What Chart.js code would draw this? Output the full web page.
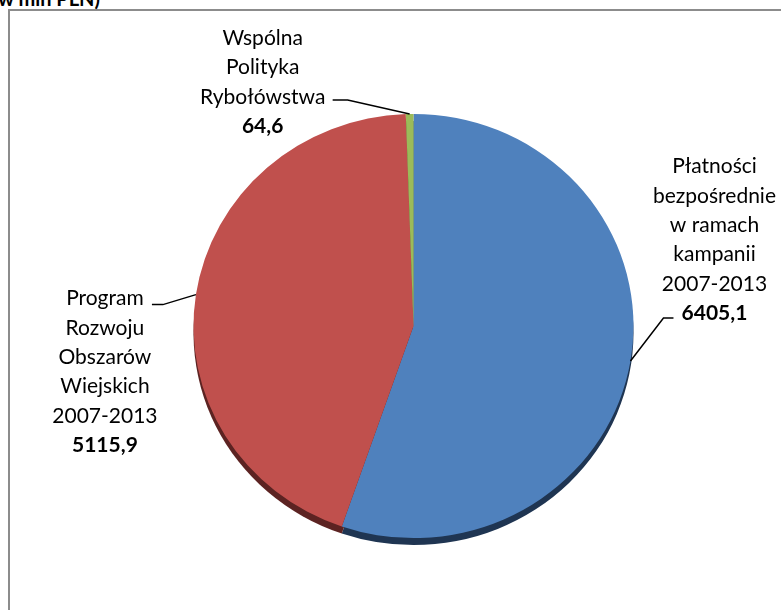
<!DOCTYPE html>
<html>
<head>
<meta charset="utf-8">
<script src="https://cdn.jsdelivr.net/npm/chart.js@4"></script>
<style>
    html, body { margin: 0; padding: 0; background: #fff; }
    #wrap { position: relative; width: 781px; height: 610px; overflow: hidden; }
    #frame { position: absolute; left: 8px; top: 9px; width: 900px; height: 800px;
             border: 2px solid #8c8c8c; box-sizing: border-box; }
    #title { position: absolute; right: 681px; top: -12px; white-space: nowrap;
             font: bold 20px Lato, sans-serif; line-height: 20px; color: #000; }
    canvas { position: absolute; left: 0; top: 0; }
</style>
</head>
<body>
<div id="wrap">
    <div id="frame"></div>
    <div id="title">Środki wypłacone przez ARiMR (w mln PLN)</div>
    <canvas id="pie" width="781" height="610"></canvas>
</div>
<script>
// data
const categories = [
    ['Płatności', 'bezpośrednie', 'w ramach', 'kampanii', '2007-2013'],
    ['Program', 'Rozwoju', 'Obszarów', 'Wiejskich', '2007-2013'],
    ['Wspólna', 'Polityka', 'Rybołówstwa']
];
const values = [6405.1, 5115.9, 64.6];

const colors = ['#4f81bd', '#c0504d', '#9bbb59'];
const sideColors = ['#1f3552', '#5c2322', '#4a5c2a'];

// pie is slightly flattened (3D look)
const squash = 0.964;
const depth = 7;

// leader line / label layout, relative to the point on the pie edge
const labelLayout = [
    { elbow: [33, -43], tail: 10, textDx: 41, textDy: -5, anchorLine: 5 },
    { elbow: [-33, 10], tail: -11, textDx: -47, textDy: -6, anchorLine: 0 },
    { elbow: [-62, -14], tail: -15, textDx: -70, textDy: -3, anchorLine: 2 }
];

const fontFamily = 'Lato, sans-serif';
const lineH = 29.3;

function fmt(v) {
    return v.toFixed(1).replace('.', ',');
}

const ellipsePlugin = {
    id: 'ellipse',
    beforeDatasetsDraw(chart) {
        const ctx = chart.ctx;
        const arcs = chart.getDatasetMeta(0).data;
        const cx = arcs[0].x, cy = arcs[0].y;
        ctx.save();
        ctx.translate(cx, cy);
        ctx.scale(1, squash);
        ctx.translate(-cx, -cy);
        // side / depth of the pie
        arcs.forEach((a, i) => {
            ctx.beginPath();
            ctx.moveTo(a.x, a.y + depth / squash);
            ctx.arc(a.x, a.y + depth / squash, a.outerRadius, a.startAngle, a.endAngle);
            ctx.closePath();
            ctx.fillStyle = sideColors[i];
            ctx.fill();
        });
    },
    afterDatasetsDraw(chart) {
        chart.ctx.restore();
    }
};

const labelPlugin = {
    id: 'outLabels',
    afterDraw(chart) {
        const ctx = chart.ctx;
        const arcs = chart.getDatasetMeta(0).data;
        ctx.save();
        arcs.forEach((a, i) => {
            const mid = (a.startAngle + a.endAngle) / 2;
            const ex = a.x + Math.cos(mid) * a.outerRadius;
            const ey = a.y + Math.sin(mid) * a.outerRadius * squash;
            const L = labelLayout[i];
            const bx = ex + L.elbow[0], by = ey + L.elbow[1];
            const tx = bx + L.tail;

            ctx.strokeStyle = '#000';
            ctx.lineWidth = 1.5;
            ctx.beginPath();
            ctx.moveTo(ex, ey);
            ctx.lineTo(bx, by);
            ctx.lineTo(tx, by);
            ctx.stroke();

            const lines = categories[i].concat([fmt(values[i])]);
            const cxText = tx + L.textDx;
            const y0 = by + L.textDy - L.anchorLine * lineH;
            ctx.fillStyle = '#000';
            ctx.textAlign = 'center';
            ctx.textBaseline = 'middle';
            lines.forEach((t, k) => {
                const last = k === lines.length - 1;
                ctx.font = (last ? 'bold ' : '') + '21px ' + fontFamily;
                ctx.fillText(t, cxText, y0 + k * lineH);
            });
        });
        ctx.restore();
    }
};

new Chart(document.getElementById('pie'), {
    type: 'pie',
    data: {
        labels: categories,
        datasets: [{
            data: values,
            backgroundColor: colors,
            borderWidth: 0
        }]
    },
    options: {
        responsive: false,
        animation: false,
        layout: { padding: { left: 193.5, right: 147.5, top: 106, bottom: 64 } },
        plugins: {
            legend: { display: false },
            tooltip: { enabled: false }
        }
    },
    plugins: [ellipsePlugin, labelPlugin]
});
</script>
</body>
</html>
